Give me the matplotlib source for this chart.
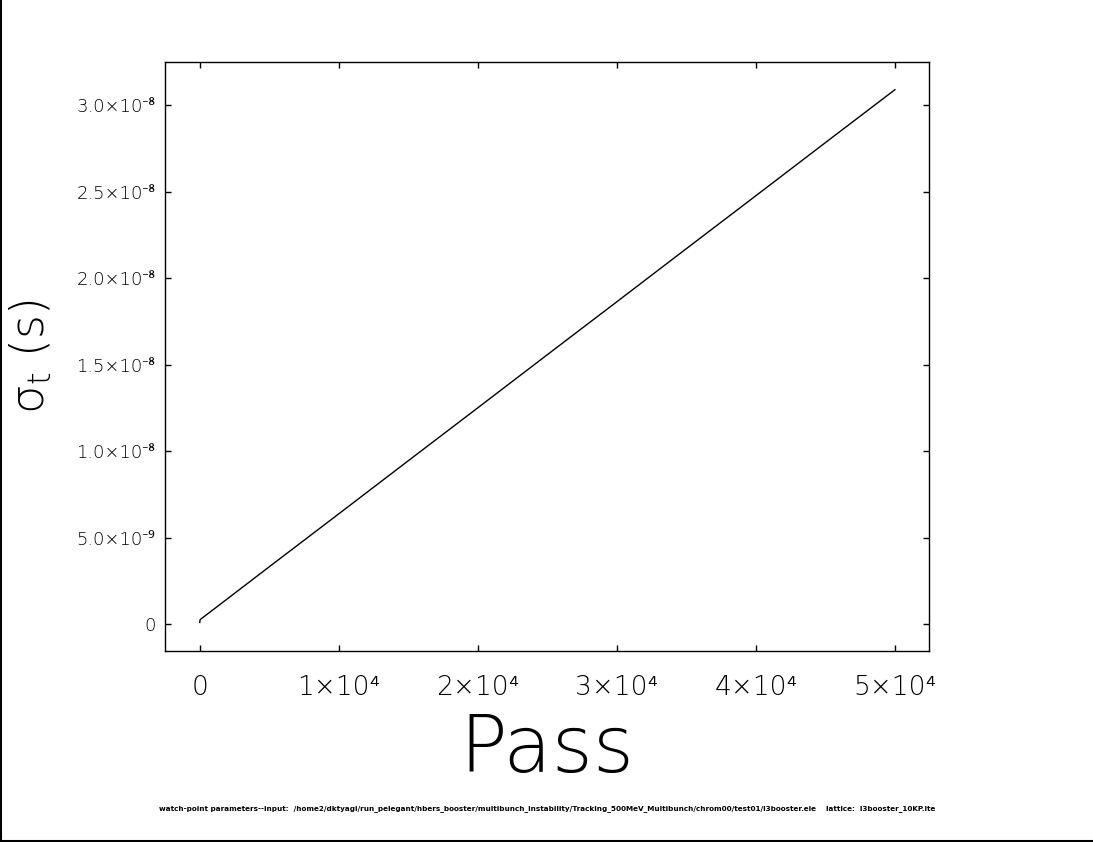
import matplotlib
matplotlib.use("Agg")
import matplotlib.pyplot as plt
from matplotlib.lines import Line2D
from matplotlib.ticker import FixedLocator, FixedFormatter

# ── data ────────────────────────────────────────────────────────────────
passes = [0, 20, 50, 1000, 5000, 10000, 15000, 20000, 25000, 30000,
          35000, 40000, 45000, 50000]
sigma_t = [1.0e-10, 2.4e-10, 2.8e-10, 8.6e-10, 3.32e-9, 6.38e-9, 9.45e-9,
           1.251e-8, 1.558e-8, 1.864e-8, 2.171e-8, 2.477e-8, 2.784e-8,
           3.090e-8]

x_ticks = [0, 10000, 20000, 30000, 40000, 50000]
x_labels = ["0", "1×10⁴", "2×10⁴", "3×10⁴", "4×10⁴", "5×10⁴"]
y_ticks = [0, 5e-9, 1e-8, 1.5e-8, 2e-8, 2.5e-8, 3e-8]
y_labels = ["0", "5.0×10⁻⁹", "1.0×10⁻⁸", "1.5×10⁻⁸", "2.0×10⁻⁸",
            "2.5×10⁻⁸", "3.0×10⁻⁸"]

footer = ("watch-point parameters--input:  /home2/dktyagi/run_pelegant/hbers_booster/"
          "multibunch_instability/Tracking_500MeV_Multibunch/chrom00/test01/"
          "l3booster.ele    lattice:  l3booster_10KP.lte")

FONT = ["DejaVu Sans", "Noto Sans", "Open Sans"]
W = "light"

# ── figure ──────────────────────────────────────────────────────────────
fig = plt.figure(figsize=(10.93, 8.42), dpi=100)
ax = fig.add_axes([165 / 1093, 1 - 651 / 842, (929 - 165) / 1093, (651 - 62) / 842])

ax.plot(passes, sigma_t, color="black", linewidth=1.0)

ax.set_xlim(-2500, 52450)
ax.set_ylim(-1.55e-9, 3.25e-8)

ax.xaxis.set_major_locator(FixedLocator(x_ticks))
ax.xaxis.set_major_formatter(FixedFormatter(x_labels))
ax.yaxis.set_major_locator(FixedLocator(y_ticks))
ax.yaxis.set_major_formatter(FixedFormatter(y_labels))
ax.minorticks_off()

ax.tick_params(axis="both", which="major", direction="in", length=4.5,
               width=1, top=True, right=True, color="black")
ax.tick_params(axis="x", pad=17, labelsize=19)
ax.tick_params(axis="y", pad=7, labelsize=13)
for lab in ax.get_xticklabels() + ax.get_yticklabels():
    lab.set_family(FONT)
    lab.set_fontweight(W)

for sp in ax.spines.values():
    sp.set_linewidth(1)

ax.set_xlabel("Pass", fontsize=57, family=FONT, fontweight=W, labelpad=9)
ax.set_ylabel("σ$_{\\mathregular{t}}$ (s)", fontsize=33, family=FONT,
              fontweight=W, labelpad=16)

fig.text(547 / 1093, 1 - 809 / 842, footer, ha="center", va="center",
         fontsize=5.2, family=FONT, fontweight="bold")

# frame edges on the left and bottom of the picture
fig.add_artist(Line2D([0.5 / 1093, 0.5 / 1093], [0, 1], color="black",
                      linewidth=1.5, transform=fig.transFigure))
fig.add_artist(Line2D([0, 1], [1 - 840.5 / 842, 1 - 840.5 / 842], color="black",
                      linewidth=1.5, transform=fig.transFigure))

fig.savefig("out.png", dpi=100)
